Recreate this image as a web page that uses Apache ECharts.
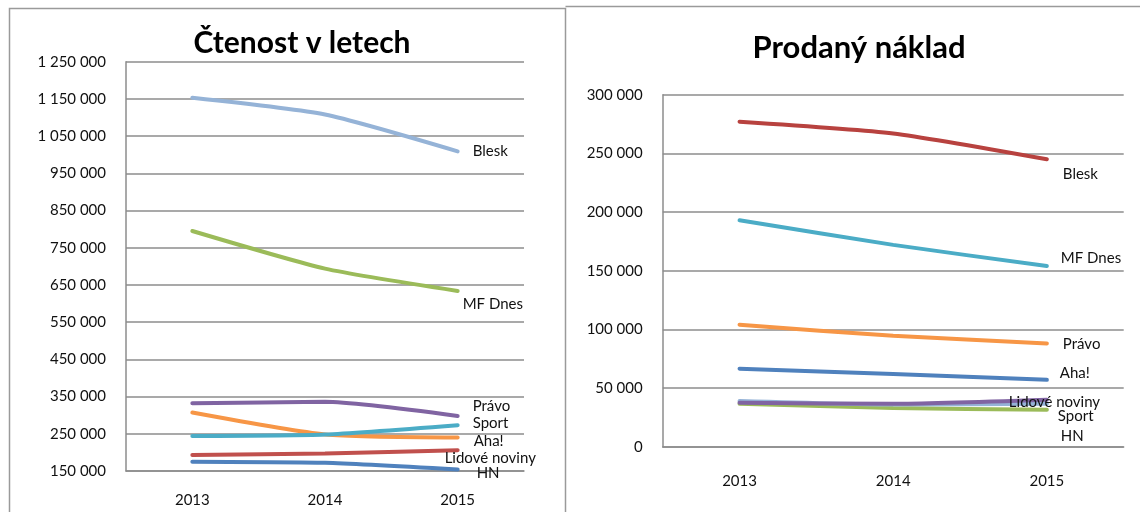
<!DOCTYPE html>
<html><head><meta charset="utf-8">
<script src="https://cdn.jsdelivr.net/npm/echarts@6/dist/echarts.min.js"></script>
<style>html,body{margin:0;padding:0;background:#fff}#c{width:1140px;height:512px}</style>
</head><body><div id="c"></div>
<script>
// ---- data ----
const years = ['2013', '2014', '2015'];
const seriesNames = ['Blesk', 'MF Dnes', 'Právo', 'Sport', 'Aha!', 'Lidové noviny', 'HN'];

// Čtenost v letech (readership)
const readBlesk  = [1153000, 1108000, 1009000];
const readMfDnes = [795000, 694000, 634000];
const readPravo  = [332000, 336000, 298000];
const readSport  = [244000, 248000, 273000];
const readAha    = [307000, 248000, 240000];
const readLidove = [193000, 197000, 206000];
const readHn     = [175000, 172000, 154000];

// Prodaný náklad (sold circulation)
const soldBlesk  = [277000, 267000, 245000];
const soldMfDnes = [193000, 172000, 154000];
const soldPravo  = [104000, 94500, 88000];
const soldSport  = [36500, 33000, 31500];
const soldAha    = [66500, 62000, 57000];
const soldLidove = [37500, 36500, 40000];
const soldHn     = [39000, 36000, 36500];

const readTicks = [150000, 250000, 350000, 450000, 550000, 650000, 750000, 850000, 950000, 1050000, 1150000, 1250000];
const soldTicks = [0, 50000, 100000, 150000, 200000, 250000, 300000];

const titleLeft = 'Čtenost v letech';
const titleRight = 'Prodaný náklad';

// ---- styling ----
const FONT = 'Lato, "Open Sans", sans-serif';
const fmt = v => String(v).replace(/\B(?=(\d{3})+(?!\d))/g, ' ');
const GRAY = '#8c8c8c';

const leftStyle = {
  'Blesk':         {color: '#95b3d7', off: [15, 0]},
  'MF Dnes':       {color: '#9bbb59', off: [5, 13]},
  'Právo':         {color: '#8064a2', off: [15, -10]},
  'Sport':         {color: '#4bacc6', off: [15, -2]},
  'Aha!':          {color: '#f79646', off: [16, 4]},
  'Lidové noviny': {color: '#c0504d', off: [-13, 8]},
  'HN':            {color: '#4f81bd', off: [19, 4]}
};
const rightStyle = {
  'Blesk':         {color: '#b8423f', off: [16, 15]},
  'MF Dnes':       {color: '#4bacc6', off: [14, -8]},
  'Právo':         {color: '#f79646', off: [16, 1]},
  'Sport':         {color: '#9bbb59', off: [11, 6]},
  'Aha!':          {color: '#4f81bd', off: [13, -7]},
  'Lidové noviny': {color: '#8064a2', off: [-38, 2]},
  'HN':            {color: '#95b3d7', off: [14, 32]}
};

const readData = {'Blesk': readBlesk, 'MF Dnes': readMfDnes, 'Právo': readPravo, 'Sport': readSport, 'Aha!': readAha, 'Lidové noviny': readLidove, 'HN': readHn};
const soldData = {'Blesk': soldBlesk, 'MF Dnes': soldMfDnes, 'Právo': soldPravo, 'Sport': soldSport, 'Aha!': soldAha, 'Lidové noviny': soldLidove, 'HN': soldHn};

function mkSeries(dataMap, styleMap, idx, drawOrder) {
  return drawOrder.map(name => ({
    name: name,
    type: 'line',
    xAxisIndex: idx, yAxisIndex: idx,
    data: dataMap[name],
    smooth: 0.2,
    symbol: 'none',
    lineStyle: {color: styleMap[name].color, width: 4, cap: 'round'},
    itemStyle: {color: styleMap[name].color},
    endLabel: {
      show: true, formatter: name, distance: 0, offset: styleMap[name].off,
      color: '#111', fontFamily: FONT, fontSize: 15, align: 'left', verticalAlign: 'middle'
    },
    silent: true,
    z: 3
  }));
}

function yAxis(idx, ticks) {
  return {
    type: 'value', gridIndex: idx,
    min: ticks[0], max: ticks[ticks.length - 1], interval: ticks[1] - ticks[0],
    axisLine: {show: true, lineStyle: {color: GRAY, width: 1.5}},
    axisTick: {show: false},
    splitLine: {show: true, lineStyle: {color: GRAY, width: 1.5}},
    axisLabel: {formatter: fmt, color: '#111', fontFamily: FONT, fontSize: 15, margin: 20}
  };
}
function xAxis(idx, margin) {
  return {
    type: 'category', gridIndex: idx, data: years, boundaryGap: true,
    axisLine: {show: true, lineStyle: {color: GRAY, width: 1.5}},
    axisTick: {show: false},
    axisLabel: {color: '#111', fontFamily: FONT, fontSize: 15, margin: margin}
  };
}

const chart = echarts.init(document.getElementById('c'), null, {renderer: 'canvas'});
chart.setOption({
  animation: false,
  backgroundColor: '#ffffff',
  title: [
    {text: titleLeft, left: 297, top: 23, textAlign: 'center',
     textStyle: {fontFamily: FONT, fontWeight: 'bold', fontSize: 30, color: '#000'}},
    {text: titleRight, left: 854, top: 27, textAlign: 'center',
     textStyle: {fontFamily: FONT, fontWeight: 'bold', fontSize: 31, color: '#000'}}
  ],
  grid: [
    {left: 126, top: 61.7, width: 398, height: 409.3},
    {left: 662.7, top: 94.7, width: 461, height: 352}
  ],
  xAxis: [xAxis(0, 22), xAxis(1, 27)],
  yAxis: [yAxis(0, readTicks), yAxis(1, soldTicks)],
  graphic: [
    {type: 'polyline', shape: {points: [[9.5, 520], [9.5, 8.5], [565.5, 8.5], [565.5, 520]]},
     style: {stroke: '#9a9a9a', lineWidth: 1.5, fill: null}, silent: true},
    {type: 'polyline', shape: {points: [[565.5, 6.5], [1145, 6.5]]},
     style: {stroke: '#9a9a9a', lineWidth: 1.5, fill: null}, silent: true}
  ],
  series: [].concat(
    mkSeries(readData, leftStyle, 0, ['HN', 'Lidové noviny', 'Aha!', 'Sport', 'Právo', 'MF Dnes', 'Blesk']),
    mkSeries(soldData, rightStyle, 1, ['Sport', 'HN', 'Lidové noviny', 'Aha!', 'Právo', 'MF Dnes', 'Blesk'])
  )
});
</script>
</body></html>
